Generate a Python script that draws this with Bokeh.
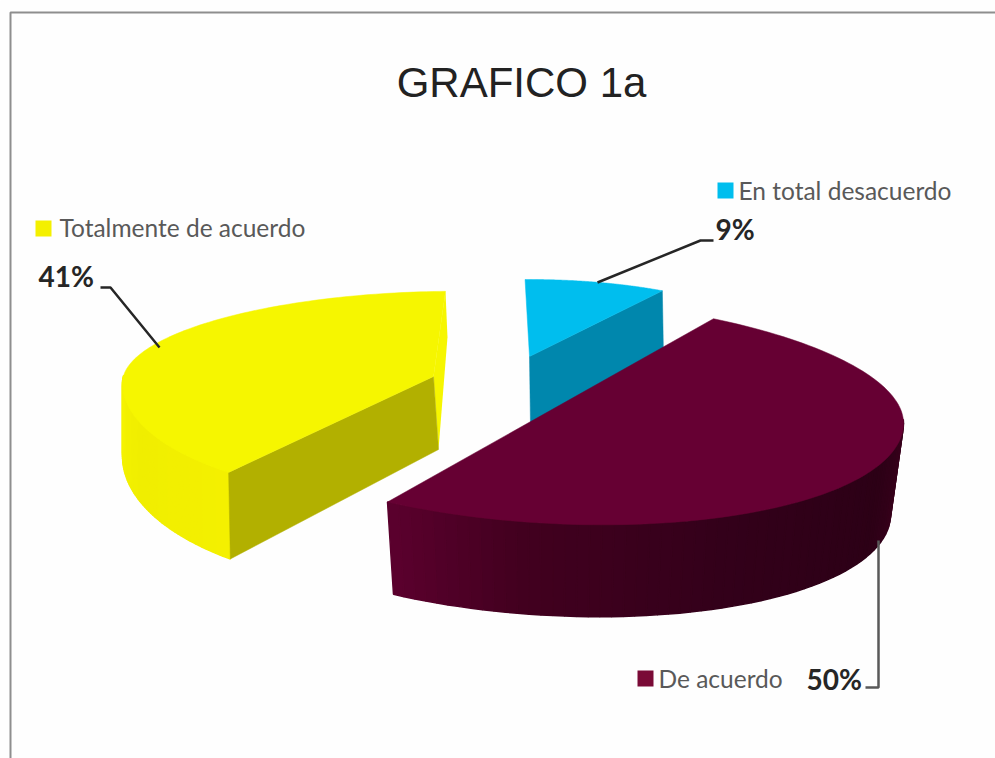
import numpy as np
from bokeh.plotting import figure
from bokeh.models import Range1d
from bokeh.core.properties import value
from bokeh.embed import file_html
from bokeh.resources import INLINE

TITLE = "GRAFICO 1a"
categories = ["En total desacuerdo", "De acuerdo", "Totalmente de acuerdo"]
shares = [9, 50, 41]
share_labels = ["9%", "50%", "41%"]
top_colors = ["#00BEEE", "#660033", "#F6F600"]
face_colors = ["#0087AD", "#5A002D", "#B2B000"]
key_colors = ["#00BEEE", "#7A0A36", "#F4F000"]

# projection of each exploded slice on the page (page pixels)
geom = [
    dict(c=(529, 356), rx=255, far=77, near=77, s=0.0, cb=(530, 426), rxb=255, farb=90, nearb=90, sb=0.0, off=-1.0, k=1.0,
         side=[(90, "#0087AD"), (270, "#0087AD")]),
    dict(c=(550, 405), rx=353, far=107, near=118, s=0.05, cb=(550, 497), rxb=340, farb=107, nearb=118, sb=0.05, off=-4.9, k=1.0,
         side=[(92, "#3A001C"), (112, "#2C0016"), (150, "#33001A"), (185, "#42001F"), (208, "#5C002E")]),
    dict(c=(433, 376), rx=311, far=85, near=122, s=-0.02, cb=(438, 449), rxb=316, farb=112, nearb=140, sb=-0.02, off=18.3, k=0.9553,
         side=[(221, "#F4F000"), (250, "#F0EE00"), (275, "#F5F300")]),
]


def pt(c, rx, far, near, s, t):
    r = np.radians(t)
    dx = rx * np.sin(r)
    dy = np.where(np.cos(r) >= 0, -far * np.cos(r), -near * np.cos(r))
    return c[0] + dx, c[1] + dy + s * dx


def top(g, t):
    return pt(g["c"], g["rx"], g["far"], g["near"], g["s"], t)


def bot(g, t):
    return pt(g["cb"], g["rxb"], g["farb"], g["nearb"], g["sb"], t)


def mix(stops, t):
    ts = [a for a, _ in stops]
    rgb = [[int(h[i:i + 2], 16) for i in (1, 3, 5)] for _, h in stops]
    vals = [np.interp(t, ts, [c[j] for c in rgb]) for j in range(3)]
    return "#%02x%02x%02x" % tuple(int(round(v)) for v in vals)


p = figure(width=995, height=758, x_range=Range1d(0, 995), y_range=Range1d(758, 0),
           output_backend="svg", toolbar_location=None, min_border=0)
p.axis.visible = False
p.grid.visible = False
p.outline_line_color = None
p.background_fill_color = "#FEFEFE"
p.border_fill_color = "#FEFEFE"

# frame of the original picture
p.line([10, 10, 995], [758, 12, 12], line_color="#8E8E8E", line_width=2)

ends = np.cumsum(shares) / sum(shares) * 360.0
starts = np.concatenate([[0.0], ends[:-1]])

for i in [0, 2, 1]:
    g = geom[i]
    t0 = g["off"] + g["k"] * starts[i]
    t1 = g["off"] + g["k"] * ends[i]
    ts = np.linspace(t0, t1, 121)

    # outer wall, in narrow strips so that it can shade along the rim
    lo, hi = max(t0, 88), min(t1, 275)
    if hi > lo:
        edges = np.linspace(lo, hi, 61)
        for a, b in zip(edges[:-1], edges[1:]):
            col = mix(g["side"], (a + b) / 2)
            xt, yt = top(g, np.array([a, b]))
            xb, yb = bot(g, np.array([b, a]))
            p.patch(np.r_[xt, xb], np.r_[yt, yb], fill_color=col, line_color=col, line_width=1.5)

    # radial walls
    if i == 2:
        fx, fy = top(g, np.array([t1]))
        bx, by = bot(g, np.array([t1]))
        p.patch([fx[0], fx[0] + 2, g["cb"][0], g["c"][0]], [fy[0], by[0], g["cb"][1], g["c"][1]],
                fill_color=top_colors[i], line_color=None)
    if i == 0:
        fx, fy = top(g, np.array([t1]))
        bx, by = bot(g, np.array([t1]))
        p.patch([fx[0], bx[0], g["cb"][0], g["c"][0]], [fy[0], by[0], g["cb"][1], g["c"][1]],
                fill_color=face_colors[i], line_color=face_colors[i], line_width=0.5)
    if i == 2:
        fx, fy = top(g, np.array([t0]))
        bx, by = bot(g, np.array([t0]))
        p.patch([fx[0], bx[0], g["cb"][0], g["c"][0]], [fy[0], by[0], g["cb"][1], g["c"][1]],
                fill_color=face_colors[i], line_color=face_colors[i], line_width=0.5)

    # top face
    xs, ys = top(g, ts)
    if i == 1:
        px, py = xs, ys
    else:
        px, py = np.r_[xs, g["c"][0]], np.r_[ys, g["c"][1]]
    p.patch(px, py, fill_color=top_colors[i], line_color=top_colors[i], line_width=0.5)

# leader lines
p.line([597, 700, 713], [282, 240, 240], line_color="#262626", line_width=2.5)
p.line([159, 110, 100], [347, 287, 287], line_color="#262626", line_width=2.5)
p.line([878, 878, 865], [540, 687, 687], line_color="#595959", line_width=2.5)

# legend keys and texts
key_x = [717, 637, 35]
key_y = [182, 670, 220]
key_text_x = [738, 658, 59]
key_text_y = [190, 678, 227]
for i in range(3):
    p.quad(left=[key_x[i]], right=[key_x[i] + 16], top=[key_y[i]], bottom=[key_y[i] + 16],
           fill_color=key_colors[i], line_color=None)
p.text(x=key_text_x, y=key_text_y, text=categories, text_font=value("Lato"),
       text_font_size=value("24.5px"), text_color="#595959", text_baseline="middle", text_align="left")

lab_x = [715, 806, 38]
lab_y = [228, 678, 275]
p.text(x=lab_x, y=lab_y, text=share_labels, text_font=value("Lato"), text_font_style="bold",
       text_font_size=value("28px"), text_color="#262626", text_baseline="middle", text_align="left")

p.text(x=[521], y=[82], text=[TITLE], text_font=value("Liberation Sans"),
       text_font_size=value("42px"), text_color="#222222", text_baseline="middle", text_align="center")

open("out.html", "w").write(file_html(p, INLINE))
